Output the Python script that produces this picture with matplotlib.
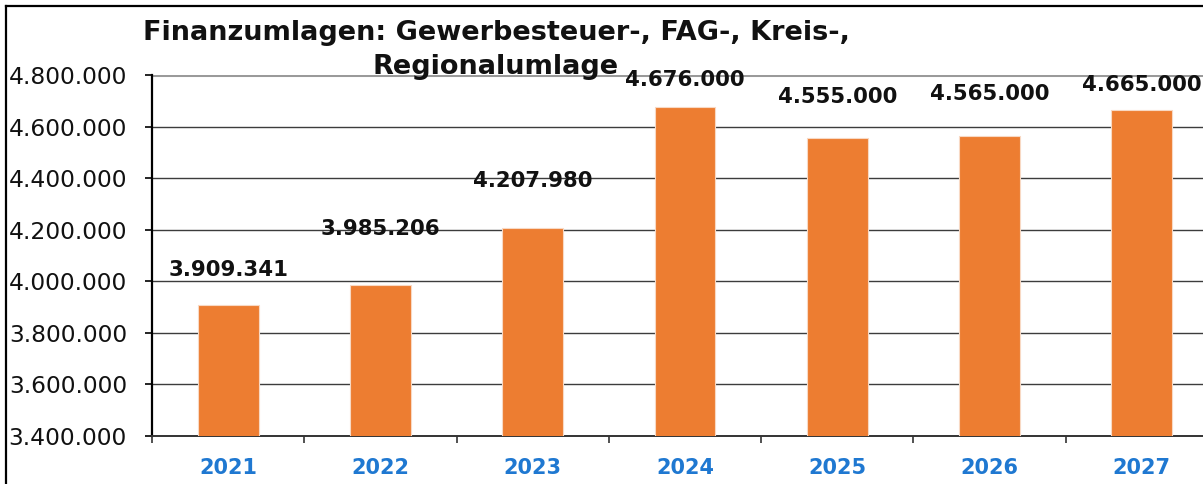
import matplotlib
matplotlib.use("Agg")
import matplotlib.pyplot as plt
from matplotlib.lines import Line2D
from matplotlib.ticker import FuncFormatter, FixedLocator

years = ["2021", "2022", "2023", "2024", "2025", "2026", "2027"]
values = [3909341, 3985206, 4207980, 4676000, 4555000, 4565000, 4665000]
value_labels = ["3.909.341", "3.985.206", "4.207.980", "4.676.000", "4.555.000", "4.565.000", "4.665.000"]
yticks = [3400000, 3600000, 3800000, 4000000, 4200000, 4400000, 4600000, 4800000]
title_lines = ["Finanzumlagen: Gewerbesteuer-, FAG-, Kreis-,", "Regionalumlage"]

# label lift above each bar top, in pixels (Excel placed them by hand)
label_lift_px = [35, 56, 47, 27, 41, 42, 25]

BAR = "#ED7D31"
W, H = 1203, 484

fig = plt.figure(figsize=(W / 100, H / 100), dpi=100)
plt.rcParams["font.family"] = "DejaVu Sans"

ax = fig.add_axes([152 / W, 48 / H, 1066 / W, 361 / H])
x = list(range(len(years)))
ax.bar(x, values, width=0.4, color=BAR, edgecolor="#F8D9C4", linewidth=0.8, zorder=3)

ax.set_xlim(-0.5, len(years) - 0.5)
ax.set_ylim(3400000, 4800000)
ax.yaxis.set_major_locator(FixedLocator(yticks))
ax.yaxis.set_major_formatter(FuncFormatter(lambda v, p: f"{int(v):,}".replace(",", ".")))
for t in yticks[1:-1]:
    ax.axhline(t, color="#3c3c3c", linewidth=1.0, zorder=1)
ax.axhline(yticks[-1], color="#9a9a9a", linewidth=2.2, zorder=1)

ax.set_xticks([i + 0.5 for i in range(-1, len(years))])
ax.set_xticklabels([])
ax.set_xticks(x, minor=True)
ax.set_xticklabels(years, minor=True)
ax.tick_params(axis="x", which="major", length=5, width=1.2, color="#333333", direction="out")
ax.tick_params(axis="x", which="minor", length=0, pad=16, labelsize=15, labelcolor="#1F78D1")
for lab in ax.get_xticklabels(minor=True):
    lab.set_fontweight("bold")
ax.tick_params(axis="y", length=5, width=1.2, direction="out", pad=13, labelsize=16.8, labelcolor="#111111")

for s in ["top", "right"]:
    ax.spines[s].set_visible(False)
ax.spines["left"].set_linewidth(1.6)
ax.spines["bottom"].set_linewidth(1.4)
ax.spines["bottom"].set_color("#333333")

for i, (v, lab) in enumerate(zip(values, value_labels)):
    ax.annotate(lab, (i, v), xytext=(0, label_lift_px[i] * 0.72), textcoords="offset points",
                ha="center", va="center", fontsize=15.3, fontweight="bold", color="#111111", zorder=5)

# two-line title, each line placed on its own
for line, y_px in zip(title_lines, [33, 67]):
    fig.text(496 / W, 1 - y_px / H, line, ha="center", va="center", fontsize=19.5,
             fontweight="bold", color="#111111", zorder=6)

# outer chart frame (only top and left edges visible in the crop)
fig.add_artist(Line2D([6 / W, 6 / W], [0, 1 - 6 / H], transform=fig.transFigure, color="black", linewidth=1.6))
fig.add_artist(Line2D([6 / W, 1], [1 - 6 / H, 1 - 6 / H], transform=fig.transFigure, color="black", linewidth=1.6))

fig.savefig("out.png", dpi=100)
